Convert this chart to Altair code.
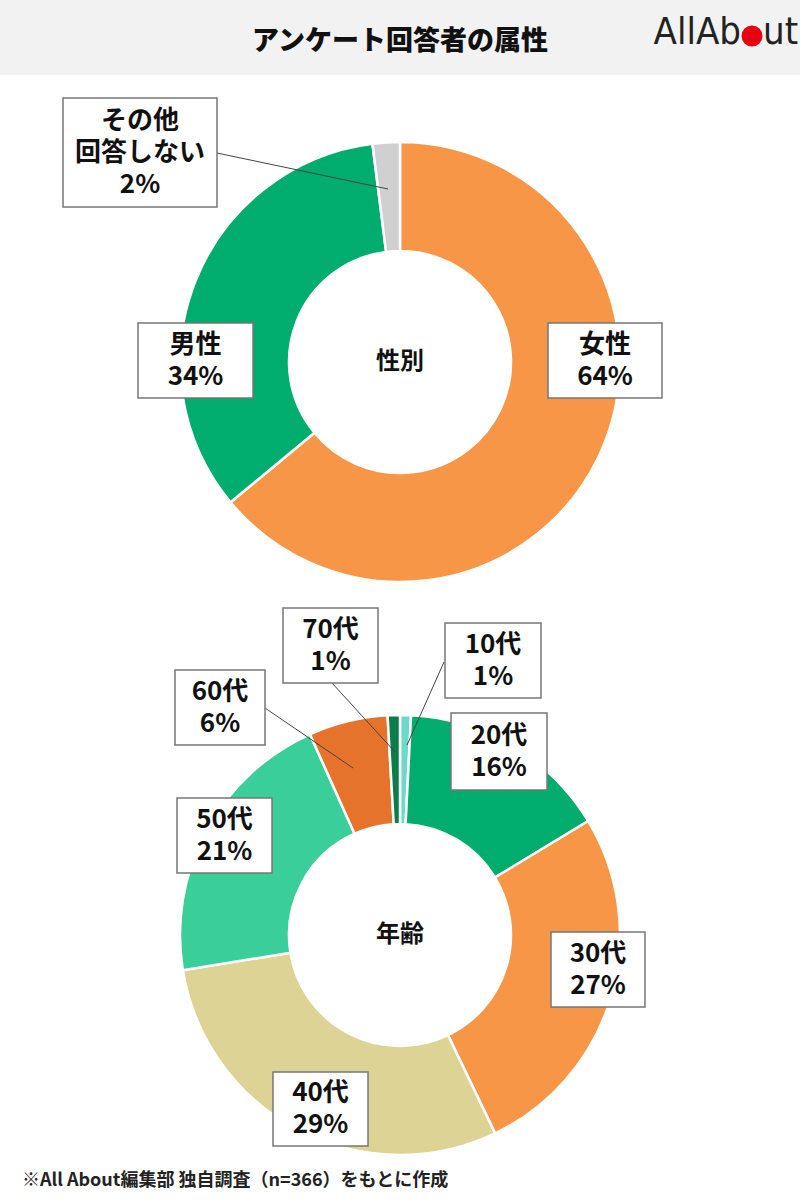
import altair as alt
import pandas as pd

W, H = 800, 1201

# ---------------- data ----------------
title_text = "アンケート回答者の属性"
footer_text = "※All About編集部 独自調査（n=366）をもとに作成"

gender_center_label = "性別"
gender_names = ["女性", "男性", "その他|回答しない"]
gender_pct = [64, 34, 2]
gender_colors = ["#F79646", "#00AD6F", "#D0D0D0"]

age_center_label = "年齢"
age_names = ["10代", "20代", "30代", "40代", "50代", "60代", "70代"]
age_pct = [1, 16, 27, 29, 21, 6, 1]            # printed labels
age_share = [0.8, 15.5, 26.5, 29.5, 20.8, 5.8, 0.9]  # slice sizes
age_colors = ["#6ED8C9", "#00AD6F", "#F79646", "#DCD395", "#3ACF9A", "#E5732C", "#0B7D4B"]

# ---------------- layout (pixels) ----------------
DONUT_R, DONUT_R2 = 220, 111
gender_c = (400, 362)
age_c = (400, 935)
LINE_H = 32
FONT = "Noto Sans CJK JP"
LOGO_FONT = "DejaVu Sans Condensed, Liberation Sans, sans-serif"

# label boxes: (x0, x1, y0, y1)
gender_boxes = [(548, 662, 323, 398), (138, 253, 323, 398), (63, 217, 98, 207)]
age_boxes = [(445, 541, 623, 698), (451, 547, 713, 790), (551, 645, 932, 1007),
             (273, 368, 1072, 1146), (177, 272, 798, 873), (175, 265, 670, 745),
             (283, 378, 608, 683)]
# leader lines: name -> (x, y, x2, y2)
leaders = {
    "その他|回答しない": (217, 153, 388, 189),
    "70代": (332, 683, 395, 752),
    "10代": (444, 662, 407, 745),
    "60代": (265, 708, 353, 768),
}

# ---------------- frames ----------------
gdf = pd.DataFrame({"name": gender_names, "v": gender_pct, "i": range(len(gender_names))})
adf = pd.DataFrame({"name": age_names, "v": age_share, "i": range(len(age_names))})

box_rows, text_rows, lead_rows = [], [], []
for names, pcts, boxes in ((gender_names, gender_pct, gender_boxes), (age_names, age_pct, age_boxes)):
    for n, p, b in zip(names, pcts, boxes):
        box_rows.append({"x": b[0], "x2": b[1], "y": b[2], "y2": b[3]})
        lines = n.split("|") + [f"{p}%"]
        cx = (b[0] + b[1]) / 2
        cy = (b[2] + b[3]) / 2
        k = len(lines)
        for j, t in enumerate(lines):
            text_rows.append({"x": cx, "y": cy + (j - (k - 1) / 2) * LINE_H, "t": t})
        if n in leaders:
            l = leaders[n]
            lead_rows.append({"x": l[0], "y": l[1], "x2": l[2], "y2": l[3]})

boxdf = pd.DataFrame(box_rows)
textdf = pd.DataFrame(text_rows)
leaddf = pd.DataFrame(lead_rows)

X = alt.X("x:Q", scale=alt.Scale(domain=[0, W], nice=False, zero=False), axis=None)
Y = alt.Y("y:Q", scale=alt.Scale(domain=[0, H], nice=False, zero=False, reverse=True), axis=None)

header = alt.Chart(pd.DataFrame([{"x": 0, "x2": W, "y": 0, "y2": 75}])).mark_rect(
    color="#F2F2F2").encode(x=X, x2="x2:Q", y=Y, y2="y2:Q")

title = alt.Chart(pd.DataFrame([{"x": 400, "y": 42, "t": title_text}])).mark_text(
    font=FONT, fontSize=27, fontWeight=900, color="#111", baseline="middle").encode(
    x=X, y=Y, text="t:N")

logo_txt = alt.Chart(pd.DataFrame([{"x": 741, "y": 33, "t": "AllAb"}])).mark_text(
    font=LOGO_FONT, fontSize=38, color="#222", baseline="middle", align="right").encode(
    x=X, y=Y, text="t:N")
logo_txt2 = alt.Chart(pd.DataFrame([{"x": 763, "y": 33, "t": "ut"}])).mark_text(
    font=LOGO_FONT, fontSize=38, color="#222", baseline="middle", align="left").encode(
    x=X, y=Y, text="t:N")
logo_dot = alt.Chart(pd.DataFrame([{"x": 752, "y": 36}])).mark_point(
    filled=True, color="#E60012", size=440, opacity=1, shape="circle").encode(x=X, y=Y)


def donut(df, colors, c):
    return alt.Chart(df).mark_arc(radius=DONUT_R, radius2=DONUT_R2, stroke="white",
                                   strokeWidth=2.5).encode(
        theta=alt.Theta("v:Q", stack="normalize"),
        order=alt.Order("i:Q"),
        color=alt.Color("name:N", scale=alt.Scale(domain=list(df["name"]), range=colors), legend=None),
        x=alt.value(c[0]), y=alt.value(c[1]),
    )


g_arc = donut(gdf, gender_colors, gender_c)
a_arc = donut(adf, age_colors, age_c)

centers = alt.Chart(pd.DataFrame([
    {"x": gender_c[0], "y": gender_c[1], "t": gender_center_label},
    {"x": age_c[0], "y": age_c[1], "t": age_center_label},
])).mark_text(font=FONT, fontSize=24, fontWeight="bold", color="#111", baseline="middle").encode(
    x=X, y=Y, text="t:N")

lead = alt.Chart(leaddf).mark_rule(color="#444", strokeWidth=1).encode(x=X, y=Y, x2="x2:Q", y2="y2:Q")

boxes = alt.Chart(boxdf).mark_rect(fill="white", stroke="#777", strokeWidth=1.5).encode(
    x=X, x2="x2:Q", y=Y, y2="y2:Q")

labels = alt.Chart(textdf).mark_text(font=FONT, fontSize=26, fontWeight="bold", color="#111",
                                      baseline="middle").encode(x=X, y=Y, text="t:N")

footer = alt.Chart(pd.DataFrame([{"x": 22, "y": 1181, "t": footer_text}])).mark_text(
    font=FONT, fontSize=18, fontWeight="bold", color="#222", baseline="middle", align="left").encode(
    x=X, y=Y, text="t:N")

chart = alt.layer(
    header, title, logo_txt, logo_txt2, logo_dot,
    g_arc, a_arc, lead, boxes, labels, centers, footer
).resolve_scale(theta="independent", color="independent").properties(
    width=W, height=H, padding=0, autosize="none", background="white"
).configure_view(strokeWidth=0)

chart.save("out.html", embed_options={"renderer": "svg", "actions": False})
